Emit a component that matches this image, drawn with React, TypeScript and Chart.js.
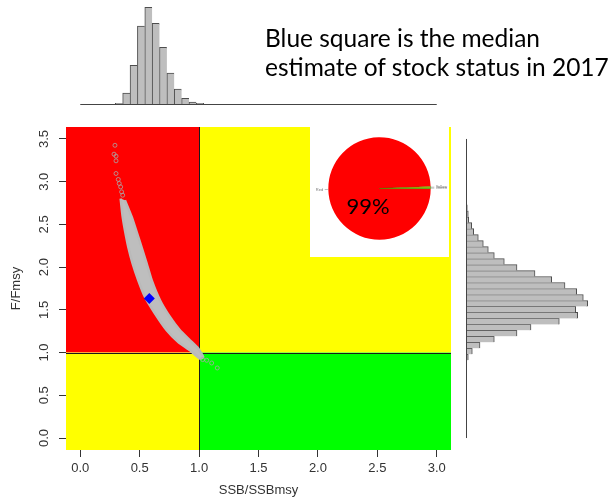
import React, { useEffect, useRef } from "react";
import { Chart, registerables } from "chart.js";
Chart.register(...registerables);

// ---------------- data ----------------
const xTicks = [0, 0.5, 1, 1.5, 2, 2.5, 3];
const yTicks = [0, 0.5, 1, 1.5, 2, 2.5, 3, 3.5];
const xMin = -0.12;
const xMax = 3.12;
const yMin = -0.14;
const yMax = 3.64;
const ssbRef = 1;
const fRef = 1;

// dense cloud of posterior samples: outline (upper/left edge, top to bottom)
const bandUpperSSB = [0.34, 0.357, 0.376, 0.404, 0.441, 0.488, 0.545, 0.629, 0.727, 0.825, 0.923, 1.007];
const bandUpperF = [2.803, 2.588, 2.432, 2.237, 2.042, 1.847, 1.651, 1.457, 1.262, 1.124, 1.027, 0.93];
// lower/right edge, top to bottom
const bandLowerSSB = [0.376, 0.433, 0.497, 0.559, 0.601, 0.671, 0.755, 0.839, 0.923, 0.993, 1.035];
const bandLowerF = [2.783, 2.588, 2.315, 2.042, 1.847, 1.613, 1.417, 1.261, 1.144, 1.047, 0.948];

// isolated samples
const outlierSSB = [0.292, 0.284, 0.301, 0.301, 0.301, 0.32, 0.328, 0.34, 0.348, 0.357, 1.03, 1.064, 1.106, 1.153];
const outlierF = [3.426, 3.322, 3.299, 3.244, 3.096, 3.026, 2.979, 2.939, 2.881, 2.842, 0.918, 0.91, 0.878, 0.82];

const medianSSB = 0.581;
const medianF = 1.632;

// marginal histogram of SSB/SSBmsy
const ssbBinCenters = [0.326, 0.388, 0.45, 0.512, 0.574, 0.636, 0.698, 0.76, 0.822, 0.884, 0.946, 1.008];
const ssbBinCounts = [7, 110, 387, 780, 967, 807, 567, 310, 150, 57, 20, 7];

// marginal histogram of F/Fmsy
const fBinCenters = [0.875, 0.945, 1.015, 1.085, 1.155, 1.225, 1.295, 1.365, 1.435, 1.505, 1.575, 1.645, 1.715, 1.785, 1.855, 1.925, 1.995, 2.065, 2.135, 2.205, 2.275, 2.345, 2.415, 2.485, 2.555, 2.625, 2.695, 2.765, 2.835, 2.905, 2.975];
const fBinCounts = [7, 23, 63, 140, 283, 510, 650, 933, 1117, 1097, 1217, 1173, 1107, 990, 857, 690, 510, 383, 283, 223, 173, 123, 77, 57, 27, 23, 13, 3, 3, 0, 3];

// pie of stock status probabilities
const pieLabels = ["Red", "Yellow", "Green"];
const pieValues = [99.4, 0.4, 0.2];
const pieText = "99%";

const axisFont = { family: "'Liberation Sans', Arial, Helvetica, sans-serif", size: 13 };
const axisColor = "#333";

const quadrantPlugin = {
  id: "quadrants",
  beforeDatasetsDraw(chart: any) {
    const { ctx, chartArea: a, scales } = chart;
    const xs = scales.x;
    const ys = scales.y;
    const x1 = xs.getPixelForValue(ssbRef);
    const y1 = ys.getPixelForValue(fRef);
    ctx.save();
    ctx.fillStyle = "#FF0000";
    ctx.fillRect(a.left, a.top, x1 - a.left, y1 - a.top);
    ctx.fillStyle = "#FFFF00";
    ctx.fillRect(x1, a.top, a.right - x1, y1 - a.top);
    ctx.fillRect(a.left, y1, x1 - a.left, a.bottom - y1);
    ctx.fillStyle = "#00FF00";
    ctx.fillRect(x1, y1, a.right - x1, a.bottom - y1);
    ctx.strokeStyle = "#1a1a1a";
    ctx.lineWidth = 1;
    ctx.beginPath();
    const xl = Math.round(x1) + 0.5;
    const yl = Math.round(y1) + 0.5;
    ctx.moveTo(xl, a.top);
    ctx.lineTo(xl, a.bottom);
    ctx.moveTo(a.left, yl);
    ctx.lineTo(a.right, yl);
    ctx.stroke();
    ctx.restore();
  },
};

const topBaselinePlugin = {
  id: "topBaseline",
  afterDatasetsDraw(chart: any) {
    const { ctx, scales } = chart;
    const y0 = Math.round(scales.y.getPixelForValue(0)) + 0.5;
    ctx.save();
    ctx.strokeStyle = "#444";
    ctx.lineWidth = 1;
    ctx.beginPath();
    ctx.moveTo(scales.x.getPixelForValue(xTicks[0]), y0);
    ctx.lineTo(scales.x.getPixelForValue(xTicks[xTicks.length - 1]), y0);
    ctx.stroke();
    ctx.restore();
  },
};

const rightBaselinePlugin = {
  id: "rightBaseline",
  afterDatasetsDraw(chart: any) {
    const { ctx, scales } = chart;
    const x0 = Math.round(scales.x.getPixelForValue(0)) + 0.5;
    ctx.save();
    ctx.strokeStyle = "#444";
    ctx.lineWidth = 1;
    ctx.beginPath();
    ctx.moveTo(x0, scales.y.getPixelForValue(yTicks[0]));
    ctx.lineTo(x0, scales.y.getPixelForValue(yTicks[yTicks.length - 1]));
    ctx.stroke();
    ctx.restore();
  },
};

const pieLabelPlugin = {
  id: "pieLabels",
  afterDraw(chart: any) {
    const { ctx } = chart;
    const meta = chart.getDatasetMeta(0);
    ctx.save();
    ctx.font = "4px 'Liberation Sans', Arial, sans-serif";
    ctx.fillStyle = "#777";
    ctx.strokeStyle = "#999";
    ctx.lineWidth = 0.6;
    meta.data.forEach((arc: any, i: number) => {
      const mid = (arc.startAngle + arc.endAngle) / 2;
      const r = arc.outerRadius;
      const c = Math.cos(mid);
      const s = Math.sin(mid);
      ctx.beginPath();
      ctx.moveTo(arc.x + c * r, arc.y + s * r);
      ctx.lineTo(arc.x + c * r * 1.07, arc.y + s * r * 1.07);
      ctx.stroke();
      ctx.textAlign = c < 0 ? "right" : "left";
      ctx.textBaseline = "middle";
      ctx.fillText(pieLabels[i], arc.x + c * r * 1.1, arc.y + s * r * 1.1);
    });
    ctx.restore();
  },
};

export default function App() {
  const topRef = useRef<HTMLCanvasElement>(null);
  const mainRef = useRef<HTMLCanvasElement>(null);
  const pieRef = useRef<HTMLCanvasElement>(null);
  const rightRef = useRef<HTMLCanvasElement>(null);

  useEffect(() => {
    const bandPoly = [
      ...bandUpperSSB.map((x, i) => ({ x, y: bandUpperF[i] })),
      ...bandLowerSSB.map((x, i) => ({ x, y: bandLowerF[i] })).reverse(),
    ];
    const outliers = outlierSSB.map((x, i) => ({ x, y: outlierF[i] }));

    const main = new Chart(mainRef.current as HTMLCanvasElement, {
      type: "scatter",
      data: {
        datasets: [
          {
            type: "line",
            data: bandPoly,
            fill: "shape",
            backgroundColor: "#BEBEBE",
            borderColor: "#BABABA",
            borderWidth: 2.5,
            borderJoinStyle: "round",
            pointRadius: 0,
            tension: 0.15,
            order: 3,
          } as any,
          {
            data: outliers,
            pointStyle: "circle",
            pointRadius: 2,
            borderColor: "#A8A8A8",
            backgroundColor: "rgba(0,0,0,0)",
            borderWidth: 0.8,
            order: 2,
          },
          {
            data: [{ x: medianSSB, y: medianF }],
            pointStyle: "rectRot",
            pointRadius: 5.5,
            backgroundColor: "#0000FF",
            borderColor: "#0000FF",
            borderWidth: 0,
            order: 1,
          },
        ],
      },
      options: {
        animation: false,
        responsive: false,
        maintainAspectRatio: false,
        events: [],
        layout: { padding: { top: 17, right: 9, left: 0, bottom: 0 } },
        plugins: { legend: { display: false }, tooltip: { enabled: false } },
        scales: {
          x: {
            type: "linear",
            min: xMin,
            max: xMax,
            afterFit: (s: any) => { s.height = 52; },
            afterBuildTicks: (s: any) => { s.ticks = xTicks.map((v) => ({ value: v })); },
            ticks: {
              font: axisFont,
              color: axisColor,
              padding: 4,
              autoSkip: false,
              maxRotation: 0,
              callback: (v: any) => Number(v).toFixed(1),
            },
            grid: { drawOnChartArea: false, tickLength: 7, color: "#333" },
            border: { display: false },
            title: { display: true, text: "SSB/SSBmsy", font: axisFont, color: axisColor, padding: { top: 0, bottom: 4 } },
          },
          y: {
            type: "linear",
            min: yMin,
            max: yMax,
            afterFit: (s: any) => { s.width = 66; },
            afterBuildTicks: (s: any) => { s.ticks = yTicks.map((v) => ({ value: v })); },
            ticks: {
              font: axisFont,
              color: axisColor,
              padding: 6,
              autoSkip: false,
              minRotation: 90,
              maxRotation: 90,
              crossAlign: "center",
              callback: (v: any) => Number(v).toFixed(1),
            },
            grid: { drawOnChartArea: false, tickLength: 7, color: "#333" },
            border: { display: false },
            title: { display: true, text: "F/Fmsy", font: axisFont, color: axisColor, padding: { top: 9, bottom: 0 } },
          },
        },
      } as any,
      plugins: [quadrantPlugin],
    });

    const nS = ssbBinCenters.length;
    const top = new Chart(topRef.current as HTMLCanvasElement, {
      type: "bar",
      data: {
        datasets: [
          {
            data: ssbBinCenters.map((x, i) => ({ x, y: ssbBinCounts[i] })),
            backgroundColor: "#BEBEBE",
            borderColor: "#4d4d4d",
            borderWidth: (c: any) => ({ left: 1, top: 1, bottom: 0, right: c.dataIndex === nS - 1 ? 1 : 0 }),
            borderSkipped: "start",
            barPercentage: 1,
            categoryPercentage: 1,
          } as any,
        ],
      },
      options: {
        animation: false,
        responsive: false,
        maintainAspectRatio: false,
        events: [],
        layout: { padding: { left: 66, right: 9, top: 4, bottom: 6 } },
        plugins: { legend: { display: false }, tooltip: { enabled: false } },
        scales: {
          x: {
            type: "linear",
            min: xMin,
            max: xMax,
            offset: false,
            grid: { offset: false },
            display: false,
            afterBuildTicks: (s: any) => { s.ticks = xTicks.map((v) => ({ value: v })); },
          },
          y: { type: "linear", min: 0, max: 1000, display: false },
        },
      } as any,
      plugins: [topBaselinePlugin],
    });

    const right = new Chart(rightRef.current as HTMLCanvasElement, {
      type: "bar",
      data: {
        datasets: [
          {
            data: fBinCenters.map((y, i) => ({ x: fBinCounts[i], y })),
            backgroundColor: "#BEBEBE",
            borderColor: "#4d4d4d",
            borderWidth: (c: any) => ({ left: 0, top: 1, right: 1, bottom: c.dataIndex === 0 ? 1 : 0 }),
            borderSkipped: "start",
            barPercentage: 1,
            categoryPercentage: 1,
          } as any,
        ],
      },
      options: {
        indexAxis: "y",
        animation: false,
        responsive: false,
        maintainAspectRatio: false,
        events: [],
        layout: { padding: { left: 6, right: 0, top: 0, bottom: 0 } },
        plugins: { legend: { display: false }, tooltip: { enabled: false } },
        scales: {
          y: {
            type: "linear",
            min: yMin,
            max: yMax,
            offset: false,
            grid: { offset: false },
            display: false,
            afterBuildTicks: (s: any) => { s.ticks = yTicks.map((v) => ({ value: v })); },
          },
          x: { type: "linear", min: 0, max: 1430, display: false, offset: false },
        },
      } as any,
      plugins: [rightBaselinePlugin],
    });

    const pie = new Chart(pieRef.current as HTMLCanvasElement, {
      type: "pie",
      data: {
        labels: pieLabels,
        datasets: [
          {
            data: pieValues,
            backgroundColor: ["#FF0000", "#FFFF00", "#00FF00"],
            borderColor: ["#FF0000", "#5a5a00", "#6a8a00"],
            borderWidth: [0, 0.6, 0.4],
            hoverOffset: 0,
          },
        ],
      },
      options: {
        animation: false,
        responsive: false,
        maintainAspectRatio: false,
        events: [],
        rotation: 90,
        layout: { padding: { left: 18, right: 18, top: 10, bottom: 17 } },
        plugins: { legend: { display: false }, tooltip: { enabled: false } },
      } as any,
      plugins: [pieLabelPlugin],
    });

    return () => {
      main.destroy();
      top.destroy();
      right.destroy();
      pie.destroy();
    };
  }, []);

  return (
    <div style={{ position: "absolute", left: 0, top: 0, width: 609, height: 502, background: "#fff", overflow: "hidden" }}>
      <canvas ref={topRef} width={460} height={110} style={{ position: "absolute", left: 0, top: 0, display: "block" }} />
      <div
        style={{
          position: "absolute",
          left: 265,
          top: 23,
          fontFamily: "Lato, 'Open Sans', sans-serif",
          fontSize: 24.5,
          lineHeight: "29px",
          color: "#000",
          whiteSpace: "nowrap",
        }}
      >
        Blue square is the median
        <br />
        estimate of stock status in 2017
      </div>
      <canvas ref={mainRef} width={460} height={392} style={{ position: "absolute", left: 0, top: 110, display: "block" }} />
      <canvas ref={pieRef} width={139} height={130} style={{ position: "absolute", left: 310, top: 127, display: "block", background: "#fff" }} />
      <div
        style={{
          position: "absolute",
          left: 318,
          top: 195,
          width: 100,
          textAlign: "center",
          fontFamily: "Lato, 'Open Sans', sans-serif",
          fontSize: 22,
          lineHeight: "22px",
          color: "#000",
        }}
      >
        {pieText}
      </div>
      <canvas ref={rightRef} width={149} height={323} style={{ position: "absolute", left: 460, top: 127, display: "block" }} />
    </div>
  );
}
